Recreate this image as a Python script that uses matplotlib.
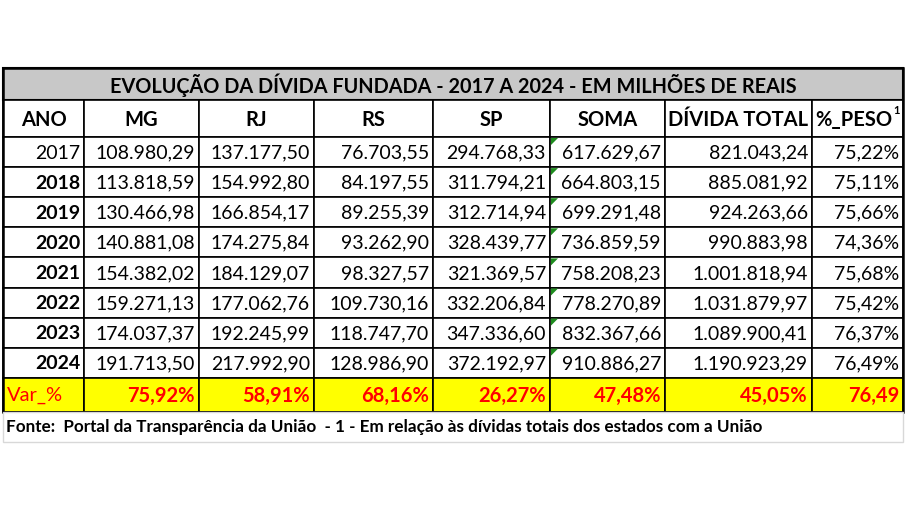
import matplotlib
matplotlib.use("Agg")
import matplotlib.pyplot as plt
from matplotlib.patches import Rectangle, Polygon

title = "EVOLUÇÃO DA DÍVIDA FUNDADA - 2017 A 2024 - EM MILHÕES DE REAIS"
headers = ["ANO", "MG", "RJ", "RS", "SP", "SOMA", "DÍVIDA TOTAL", "%_PESO"]
years = ["2017", "2018", "2019", "2020", "2021", "2022", "2023", "2024"]
mg = ["108.980,29", "113.818,59", "130.466,98", "140.881,08", "154.382,02", "159.271,13", "174.037,37", "191.713,50"]
rj = ["137.177,50", "154.992,80", "166.854,17", "174.275,84", "184.129,07", "177.062,76", "192.245,99", "217.992,90"]
rs = ["76.703,55", "84.197,55", "89.255,39", "93.262,90", "98.327,57", "109.730,16", "118.747,70", "128.986,90"]
sp = ["294.768,33", "311.794,21", "312.714,94", "328.439,77", "321.369,57", "332.206,84", "347.336,60", "372.192,97"]
soma = ["617.629,67", "664.803,15", "699.291,48", "736.859,59", "758.208,23", "778.270,89", "832.367,66", "910.886,27"]
total = ["821.043,24", "885.081,92", "924.263,66", "990.883,98", "1.001.818,94", "1.031.879,97", "1.089.900,41", "1.190.923,29"]
peso = ["75,22%", "75,11%", "75,66%", "74,36%", "75,68%", "75,42%", "76,37%", "76,49%"]
var_row = ["Var_%", "75,92%", "58,91%", "68,16%", "26,27%", "47,48%", "45,05%", "76,49"]
footer = "Fonte:  Portal da Transparência da União  - 1 - Em relação às dívidas totais dos estados com a União"

W, H = 906, 509
fig = plt.figure(figsize=(W / 100, H / 100), dpi=100)
ax = fig.add_axes([0, 0, 1, 1])
ax.set_xlim(0, W)
ax.set_ylim(H, 0)
ax.axis("off")

FONT = "Lato"
cols = [3, 84, 199, 314, 433, 550, 665, 812, 903]
y_title, y_head, y_data = 68, 100, 137
row_h = 30.1
y_var = y_data + 8 * row_h
y_foot = y_var + 34
y_end = y_foot + 30

# title row
ax.add_patch(Rectangle((cols[0], y_title), cols[-1] - cols[0], y_head - y_title,
                       facecolor="#c8c8c8", edgecolor="black", lw=1.5))
ax.text((cols[0] + cols[-1]) / 2, (y_title + y_head) / 2 + 1, title, ha="center", va="center",
        fontsize=14.3, fontweight="bold", family=FONT)

# header
for i, h in enumerate(headers):
    ax.add_patch(Rectangle((cols[i], y_head), cols[i + 1] - cols[i], y_data - y_head,
                           facecolor="white", edgecolor="black", lw=1.2))
    ax.text((cols[i] + cols[i + 1]) / 2 - (4 if i == 7 else 0), (y_head + y_data) / 2 + 1, h,
            ha="center", va="center", fontsize=14.5, fontweight="bold", family=FONT)
ax.text(cols[-1] - 3, y_head + 10, "1", ha="right", va="center", fontsize=8, fontweight="bold", family=FONT)

# data rows
for r in range(8):
    y0 = y_data + r * row_h
    vals = [years[r], mg[r], rj[r], rs[r], sp[r], soma[r], total[r], peso[r]]
    for i, v in enumerate(vals):
        ax.add_patch(Rectangle((cols[i], y0), cols[i + 1] - cols[i], row_h,
                               facecolor="white", edgecolor="black", lw=1.2))
        ax.text(cols[i + 1] - 4, y0 + row_h / 2 + 1, v, ha="right", va="center", fontsize=14,
                family=FONT, fontweight="bold" if (i == 0 and r > 0) else "normal")
    ax.add_patch(Polygon([(cols[5] + 1, y0 + 1), (cols[5] + 8, y0 + 1), (cols[5] + 1, y0 + 8)],
                         closed=True, facecolor="#1e8c1e", edgecolor="none"))

# var row
for i, v in enumerate(var_row):
    ax.add_patch(Rectangle((cols[i], y_var), cols[i + 1] - cols[i], y_foot - y_var,
                           facecolor="#ffff00", edgecolor="black", lw=1.2))
    ax.text(cols[i] + 4 if i == 0 else cols[i + 1] - 4, (y_var + y_foot) / 2 + 1, v,
            ha="left" if i == 0 else "right", va="center", fontsize=14.5,
            fontweight="bold" if i > 0 else "normal", color="#ff0000", family=FONT)
ax.add_patch(Rectangle((cols[0], y_title), cols[-1] - cols[0], y_foot - y_title,
                       facecolor="none", edgecolor="black", lw=1.8))

# footer
ax.add_patch(Rectangle((cols[0], y_foot), cols[-1] - cols[0], y_end - y_foot,
                       facecolor="white", edgecolor="#d8d8d8", lw=1))
ax.text(cols[0] + 3, (y_foot + y_end) / 2, footer, ha="left", va="center",
        fontsize=12.3, fontweight="bold", family=FONT)

fig.savefig("out.png", dpi=100)
